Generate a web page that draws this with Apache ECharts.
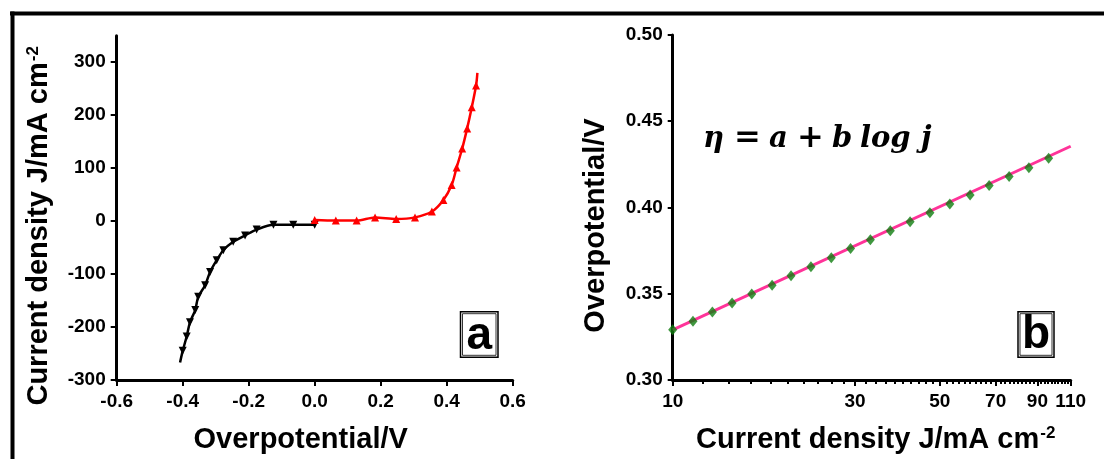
<!DOCTYPE html>
<html><head><meta charset="utf-8">
<script src="https://cdn.jsdelivr.net/npm/echarts@6/dist/echarts.min.js"></script>
<style>html,body{margin:0;padding:0;background:#fff}#c{width:1104px;height:459px}</style>
</head><body><div id="c"></div>
<script>
// ---- panel a: polarization curves ----
const potCathodic = [-0.408, -0.400, -0.388, -0.378, -0.362, -0.353, -0.332, -0.317, -0.297, -0.277, -0.247, -0.211, -0.176, -0.125, -0.065, 0.000];
const jCathodic   = [-267, -245, -218, -191, -168, -143, -121, -96, -74, -55, -39, -27, -16, -7, -7, -7];
const potAnodic   = [0.000, 0.064, 0.127, 0.183, 0.247, 0.304, 0.355, 0.390, 0.415, 0.430, 0.447, 0.462, 0.476, 0.489, 0.493];
const jAnodic     = [2, 1, 1, 7, 4, 7, 18, 40, 68, 101, 137, 175, 215, 256, 280];
const aXTicks = [-0.6, -0.4, -0.2, 0.0, 0.2, 0.4, 0.6];
const aYTicks = [-300, -200, -100, 0, 100, 200, 300];

// ---- panel b: Tafel plot ----
const tafelJ   = [10.0, 11.3, 12.7, 14.3, 16.1, 18.2, 20.4, 23.0, 26.0, 29.2, 32.9, 37.1, 41.8, 47.1, 53.1, 60.0, 67.3, 75.9, 85.5, 96.3];
const tafelEta = [0.3292, 0.3340, 0.3394, 0.3446, 0.3498, 0.3550, 0.3604, 0.3656, 0.3708, 0.3762, 0.3813, 0.3865, 0.3917, 0.3969, 0.4021, 0.4073, 0.4127, 0.4179, 0.4231, 0.4285];
const fitJ   = [10, 110];
const fitEta = [0.329, 0.4355];
const bYTicks = [0.30, 0.35, 0.40, 0.45, 0.50];
const bXLabels = [10, 30, 50, 70, 90, 110];
const bXMinor = [12, 14, 16, 18, 20, 22, 24, 26, 28, 32, 34, 36, 38, 40, 42, 44, 46, 48, 52, 54, 56, 58, 60, 62, 64, 66, 68, 72, 74, 76, 78, 80, 82, 84, 86, 88, 92, 94, 96, 98, 100, 102, 104, 106, 108];

// equation tokens
const eqTokens = ['η', '=', 'a', '+', 'b', 'log', 'j'];

const FONT = 'Liberation Sans';
const zip = (xs, ys) => xs.map((x, i) => [x, ys[i]]);

function withEnds(pairs, noSymbolIdx) {
  return pairs.map((p, i) => noSymbolIdx.includes(i) ? {value: p, symbol: 'none'} : {value: p});
}

const axisLine = {show: true, onZero: false, lineStyle: {color: '#000', width: 3}};
const tickStyle = (len) => ({show: true, inside: false, length: len, lineStyle: {color: '#000', width: 2}});
const lbl = (extra) => Object.assign({color: '#000', fontFamily: FONT, fontWeight: 'bold', fontSize: 19}, extra);
const titleStyle = (pad) => ({
  color: '#000', fontFamily: FONT, fontWeight: 'bold', fontSize: 29, padding: pad,
  rich: {sup: {fontFamily: FONT, fontWeight: 'bold', fontSize: 17, color: '#000', verticalAlign: 'top', padding: [0, 0, 12, 1]}}
});

// equation layout (left x of each token, px)
const eqX = [703, 734, 769, 797, 832, 860, 921];
const eqGraphics = eqTokens.map((t, i) => ({
  type: 'text', x: eqX[i], y: 139,
  style: {
    text: t, fill: '#000', align: 'left', verticalAlign: 'middle',
    fontFamily: 'DejaVu Serif', fontWeight: 'bold',
    fontStyle: (t === '=' || t === '+') ? 'normal' : 'italic',
    fontSize: (t === '=' || t === '+') ? 32 : 29
  }
}));

const chart = echarts.init(document.getElementById('c'), null, {renderer: 'canvas'});
chart.setOption({
  animation: false,
  backgroundColor: '#fff',
  grid: [
    {left: 116.7, top: 35.7, width: 396, height: 346, containLabel: false},
    {left: 672.7, top: 35, width: 398, height: 346.7, containLabel: false}
  ],
  xAxis: [
    {
      gridIndex: 0, type: 'value', min: -0.6, max: 0.6, interval: 0.2,
      axisLine: axisLine, axisTick: tickStyle(6), splitLine: {show: false},
      axisLabel: lbl({margin: 12, formatter: v => v.toFixed(1)}),
      name: 'Overpotential/V', nameLocation: 'middle', nameGap: 45,
      nameTextStyle: titleStyle([0, 28, 0, 0])
    },
    {
      gridIndex: 1, type: 'log', logBase: 10, min: 10, max: 110, position: 'bottom',
      axisLine: axisLine, splitLine: {show: false},
      axisTick: Object.assign(tickStyle(6), {customValues: bXLabels}),
      axisLabel: lbl({margin: 12, customValues: bXLabels, formatter: v => String(Math.round(v))}),
      name: 'Current density J/mA cm{sup|-2}', nameLocation: 'middle', nameGap: 45,
      nameTextStyle: titleStyle([0, 0, 0, 8])
    },
    {
      gridIndex: 1, type: 'log', logBase: 10, min: 10, max: 110, position: 'bottom', offset: 0,
      axisLine: {show: false}, splitLine: {show: false},
      axisTick: Object.assign(tickStyle(4), {customValues: bXMinor}),
      axisLabel: {show: false}
    }
  ],
  yAxis: [
    {
      gridIndex: 0, type: 'value', min: -300, max: 350,
      axisLine: axisLine, splitLine: {show: false},
      axisTick: Object.assign(tickStyle(6), {customValues: aYTicks}),
      axisLabel: lbl({margin: 11, customValues: aYTicks}),
      name: 'Current density J/mA cm{sup|-2}', nameLocation: 'middle', nameRotate: 90, nameGap: 63,
      nameTextStyle: titleStyle([0, 36, 0, 0])
    },
    {
      gridIndex: 1, type: 'value', min: 0.30, max: 0.50, interval: 0.05,
      axisLine: axisLine, splitLine: {show: false},
      axisTick: tickStyle(5),
      axisLabel: lbl({margin: 10, formatter: v => v.toFixed(2)}),
      name: 'Overpotential/V', nameLocation: 'middle', nameRotate: 90, nameGap: 62,
      nameTextStyle: titleStyle([0, 36, 0, 0])
    }
  ],
  series: [
    {
      type: 'line', xAxisIndex: 0, yAxisIndex: 0, smooth: 0.3,
      data: withEnds(zip(potCathodic, jCathodic), [0]),
      symbol: 'triangle', symbolRotate: 180, symbolSize: 8, showAllSymbol: true,
      lineStyle: {color: '#000', width: 2.5}, itemStyle: {color: '#000'}, z: 3
    },
    {
      type: 'line', xAxisIndex: 0, yAxisIndex: 0, smooth: 0.3,
      data: withEnds(zip(potAnodic, jAnodic), [potAnodic.length - 1]),
      symbol: 'triangle', symbolSize: 8, showAllSymbol: true,
      lineStyle: {color: '#ff0000', width: 2.5}, itemStyle: {color: '#ff0000'}, z: 4
    },
    {
      type: 'line', xAxisIndex: 1, yAxisIndex: 1,
      data: zip(fitJ, fitEta), symbol: 'none',
      lineStyle: {color: '#ff3399', width: 3}, z: 3
    },
    {
      type: 'scatter', xAxisIndex: 1, yAxisIndex: 1,
      data: zip(tafelJ, tafelEta), symbol: 'diamond', symbolSize: [9, 11],
      itemStyle: {color: '#0f7d0f'}, z: 4
    }
  ],
  graphic: [
    {type: 'rect', shape: {x: 10, y: 11.5, width: 1094, height: 4}, style: {fill: '#000'}, silent: true},
    {type: 'rect', shape: {x: 10.5, y: 11.5, width: 4, height: 448}, style: {fill: '#000'}, silent: true},
    {type: 'rect', shape: {x: 460.5, y: 311.7, width: 37.5, height: 45.6}, style: {fill: '#fff', stroke: '#000', lineWidth: 1.5}},
    {type: 'rect', shape: {x: 462.5, y: 313.7, width: 33.5, height: 41.6}, style: {fill: 'none', stroke: '#000', lineWidth: 0.8}},
    {type: 'text', x: 479.3, y: 336, style: {text: 'a', fill: '#000', fontFamily: FONT, fontWeight: 'bold', fontSize: 46, align: 'center', verticalAlign: 'middle'}},
    {type: 'rect', shape: {x: 1018, y: 311.7, width: 36, height: 45.6}, style: {fill: '#fff', stroke: '#000', lineWidth: 1.5}},
    {type: 'rect', shape: {x: 1020, y: 313.7, width: 32, height: 41.6}, style: {fill: 'none', stroke: '#000', lineWidth: 0.8}},
    {type: 'text', x: 1036, y: 335, style: {text: 'b', fill: '#000', fontFamily: FONT, fontWeight: 'bold', fontSize: 46, align: 'center', verticalAlign: 'middle'}}
  ].concat(eqGraphics)
});
</script>
</body></html>
